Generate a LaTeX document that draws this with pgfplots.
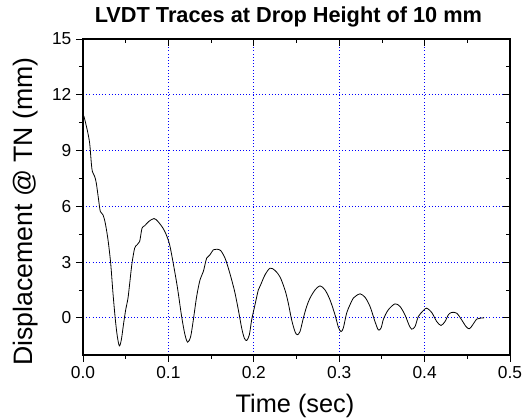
\documentclass[border=0pt]{standalone}
\usepackage{fontspec}
\setmainfont{Liberation Sans}
\usepackage{pgfplots}
\pgfplotsset{compat=1.18}
\usetikzlibrary{calc}

\pgfplotstableread{
t d
0.001 10.86
0.005 10.1
0.0078 9.39
0.0098 8.3
0.011 7.87
0.0137 7.6
0.0156 7.24
0.0183 6.34
0.0203 5.72
0.0234 5.54
0.0261 5.09
0.0293 4.19
0.0324 2.94
0.0351 1.33
0.0379 -0.11
0.0402 -1.0
0.0426 -1.51
0.0449 -1.18
0.0476 -0.29
0.050 0.43
0.0527 1.06
0.0547 1.86
0.0574 2.94
0.0605 3.75
0.0632 3.92
0.0663 4.1
0.0691 4.82
0.0722 4.95
0.0769 5.18
0.0831 5.34
0.0878 5.18
0.0937 4.82
0.0976 4.46
0.1015 3.92
0.1054 3.0
0.1104 1.68
0.1155 0.07
0.1194 -0.91
0.1226 -1.31
0.1261 -1.0
0.1292 -0.11
0.1331 1.15
0.137 2.04
0.1409 2.49
0.1448 3.21
0.1487 3.39
0.1526 3.66
0.1565 3.69
0.1612 3.62
0.1663 3.21
0.1702 2.67
0.1741 2.04
0.178 1.33
0.1819 0.43
0.1858 -0.55
0.1889 -1.09
0.1917 -1.22
0.1948 -0.91
0.1975 -0.11
0.2014 0.7
0.2053 1.5
0.208 1.77
0.2131 2.31
0.219 2.67
0.2248 2.55
0.2307 2.2
0.2365 1.5
0.2404 0.79
0.2443 -0.11
0.2482 -0.74
0.2509 -0.91
0.2541 -0.74
0.258 -0.02
0.2619 0.61
0.2658 1.06
0.2717 1.5
0.2775 1.72
0.2834 1.5
0.2892 0.97
0.2951 0.16
0.299 -0.5
0.3021 -0.74
0.3048 -0.55
0.3087 0.25
0.3126 0.7
0.3165 1.06
0.3197 1.18
0.3244 1.29
0.3302 1.11
0.3361 0.61
0.3419 -0.2
0.3458 -0.65
0.349 -0.55
0.352 -0.05
0.3575 0.43
0.3653 0.75
0.3712 0.61
0.377 0.16
0.3817 -0.38
0.3849 -0.61
0.3888 -0.47
0.3927 0.07
0.3985 0.39
0.4025 0.52
0.4083 0.29
0.4142 -0.2
0.4192 -0.41
0.4239 -0.2
0.4278 0.16
0.4317 0.29
0.4376 0.25
0.4434 -0.11
0.4485 -0.47
0.4524 -0.59
0.4563 -0.38
0.461 -0.07
0.4649 -0.02
0.4696 0
}\lvdt

\begin{document}
\begin{tikzpicture}
\pgfplotsset{
  common/.style={
    width=320.25pt, height=237pt,
    scale only axis,
    xmin=0, xmax=0.5, ymin=-2, ymax=15,
    xtick={0,0.1,...,0.5},
    ytick={0,3,...,15},
    minor x tick num=1,
    minor y tick num=1,
    major tick length=5.25pt,
    minor tick length=3pt,
    axis line style={line width=0.8pt},
    every tick/.style={black, line width=0.6pt},
  }
}
\begin{axis}[
  common,
  xtick pos=bottom, ytick pos=left,
  tick align=outside,
  grid=major,
  major grid style={blue, dotted, line width=0.5pt},
  /pgf/number format/assume math mode=true,
  tick label style={font=\fontsize{13}{15}\selectfont},
  xticklabel style={/pgf/number format/.cd, fixed, fixed zerofill, precision=1},
  xlabel={Time (sec)},
  ylabel={Displacement @ TN (mm)},
  xlabel style={font=\fontsize{19}{22}\selectfont, at={(axis description cs:0.4965,-0.182)}, anchor=base},
  ylabel style={font=\fontsize{20}{23}\selectfont, at={(axis description cs:-0.118,0.454)}, anchor=base},
  title={\bfseries LVDT Traces at Drop Height of 10 mm},
  title style={font=\fontsize{16.3}{19}\selectfont, at={(axis description cs:0.481,1.026)}, anchor=base},
]
\addplot[black, line width=0.6pt, smooth, tension=0.5] table[x=t, y=d] {\lvdt};
\end{axis}
\begin{axis}[
  common,
  xtick pos=top, ytick pos=right,
  tick align=inside,
  xticklabels={}, yticklabels={},
]
\end{axis}
\pgfresetboundingbox
\path[use as bounding box] ($(current axis.south west)+(-62.25pt,-48pt)$) rectangle ($(current axis.north east)+(12.75pt,29.25pt)$);
\end{tikzpicture}
\end{document}
